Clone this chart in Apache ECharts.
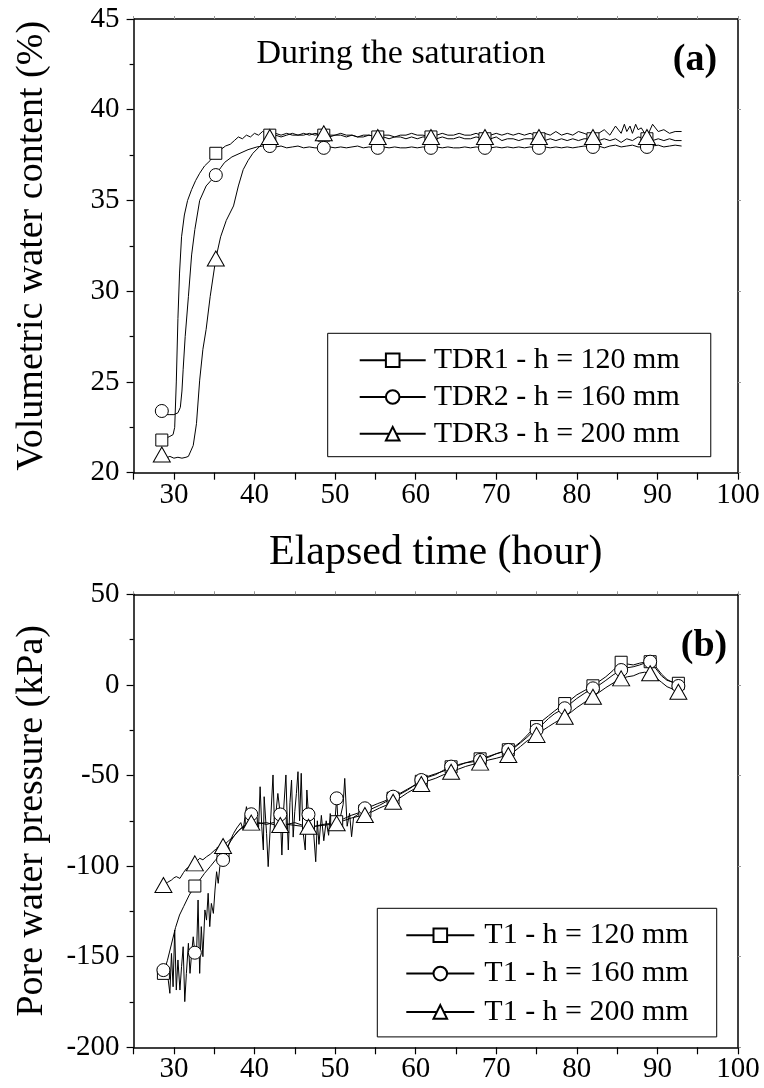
<!DOCTYPE html>
<html>
<head>
<meta charset="utf-8">
<script src="https://cdn.jsdelivr.net/npm/echarts/dist/echarts.min.js"></script>
<style>
html,body{margin:0;padding:0;background:#fff;}
#chart{width:764px;height:1088px;}
</style>
</head>
<body>
<div id="chart"></div>
<script>
// ---------- Panel (a): volumetric water content (%) vs elapsed time (hour) ----------
const tdrNames = ['TDR1 - h = 120 mm', 'TDR2 - h = 160 mm', 'TDR3 - h = 200 mm'];
const tdrMarkerTimes = [28.5, 35.2, 41.9, 48.6, 55.3, 61.9, 68.6, 75.3, 82.0, 88.7];
const tdr1 = [[28.5,21.8],[29.0,21.9],[29.5,22.0],[29.9,22.1],[30.1,22.5],[30.3,25.0],[30.5,28.5],[30.7,31.0],[30.95,33.0],[31.3,34.2],[31.7,35.0],[32.2,35.6],[32.7,36.1],[33.2,36.5],[33.8,36.9],[34.5,37.2],[35.2,37.6],[35.8,37.8],[36.4,38.0],[37.0,38.1],[37.5,38.3],[38.0,38.5],[38.5,38.4],[39.0,38.6],[39.5,38.5],[40.0,38.7],[40.5,38.6],[41.0,38.8],[41.9,38.6],[42.6,38.7],[43.3,38.6],[44.0,38.7],[44.7,38.6],[45.4,38.6],[46.1,38.7],[46.8,38.6],[47.5,38.7],[48.6,38.6],[49.3,38.5],[50.0,38.6],[50.7,38.6],[51.4,38.5],[52.1,38.6],[52.8,38.5],[53.5,38.5],[54.2,38.6],[55.3,38.5],[56.0,38.5],[56.7,38.4],[57.4,38.5],[58.1,38.5],[58.8,38.4],[59.5,38.5],[60.2,38.4],[60.9,38.5],[61.9,38.5],[62.6,38.4],[63.3,38.5],[64.0,38.4],[64.7,38.4],[65.4,38.5],[66.1,38.4],[66.8,38.4],[67.5,38.5],[68.6,38.4],[69.3,38.4],[70.0,38.5],[70.7,38.3],[71.4,38.4],[72.1,38.4],[72.8,38.3],[73.5,38.4],[74.2,38.4],[75.3,38.4],[76.0,38.3],[76.7,38.4],[77.4,38.3],[78.1,38.4],[78.8,38.3],[79.5,38.4],[80.2,38.3],[80.9,38.4],[82.0,38.4],[82.7,38.3],[83.4,38.4],[84.1,38.3],[84.8,38.4],[85.5,38.2],[86.2,38.4],[86.9,38.3],[87.6,38.5],[88.7,38.4],[89.4,38.3],[90.1,38.4],[90.8,38.3],[91.5,38.4],[92.2,38.3],[93.0,38.3]];
const tdr2 = [[28.5,23.4],[29.0,23.2],[29.5,23.2],[30.0,23.2],[30.5,23.3],[30.8,23.6],[31.0,24.5],[31.15,25.7],[31.4,27.5],[31.8,29.7],[32.2,32.0],[32.6,33.4],[33.2,35.0],[34.0,35.8],[34.6,36.1],[35.2,36.4],[35.8,36.8],[36.3,37.1],[37.2,37.4],[38.2,37.6],[39.2,37.8],[40.3,37.95],[41.0,38.0],[41.9,38.0],[42.6,37.95],[43.3,38.0],[44.0,37.9],[44.7,37.95],[45.4,38.0],[46.1,37.9],[46.8,37.95],[47.5,37.9],[48.6,37.9],[49.3,37.95],[50.0,37.9],[50.7,37.95],[51.4,37.9],[52.1,37.95],[52.8,38.0],[53.5,37.9],[54.2,37.95],[55.3,37.9],[56.0,37.95],[56.7,37.9],[57.4,37.95],[58.1,37.9],[58.8,37.9],[59.5,37.95],[60.2,37.9],[60.9,37.95],[61.9,37.9],[62.6,37.95],[63.3,37.9],[64.0,37.95],[64.7,37.9],[65.4,37.9],[66.1,37.95],[66.8,37.9],[67.5,37.95],[68.6,37.9],[69.3,37.9],[70.0,37.95],[70.7,37.9],[71.4,37.95],[72.1,37.9],[72.8,37.95],[73.5,37.9],[74.2,37.95],[75.3,37.9],[76.0,37.95],[76.7,37.9],[77.4,37.95],[78.1,37.9],[78.8,37.95],[79.5,37.9],[80.2,37.95],[80.9,38.0],[82.0,37.95],[82.7,38.0],[83.4,37.9],[84.1,38.0],[84.8,38.05],[85.5,37.95],[86.2,38.0],[86.9,38.05],[87.6,37.95],[88.7,37.95],[89.4,38.0],[90.1,38.05],[90.8,37.95],[91.5,38.0],[92.2,38.05],[93.0,38.0]];
const tdr3 = [[28.5,21.0],[29.0,20.8],[29.5,20.9],[30.0,20.8],[30.5,20.85],[31.0,20.8],[31.5,20.85],[31.8,20.9],[32.1,21.2],[32.4,21.5],[32.8,22.7],[33.2,25.1],[33.6,26.8],[34.0,27.9],[34.5,29.7],[35.2,31.8],[35.8,33.0],[36.5,33.9],[37.4,34.7],[38.0,35.8],[38.6,36.7],[39.2,37.2],[39.8,37.6],[40.7,38.0],[41.3,38.3],[41.9,38.5],[42.6,38.6],[43.3,38.5],[44.0,38.6],[44.7,38.7],[45.4,38.6],[46.1,38.6],[46.8,38.7],[47.5,38.6],[48.6,38.7],[49.3,38.6],[50.0,38.6],[50.7,38.7],[51.4,38.6],[52.1,38.6],[52.8,38.5],[53.5,38.6],[54.2,38.6],[55.3,38.5],[56.0,38.6],[56.7,38.6],[57.4,38.5],[58.1,38.6],[58.8,38.6],[59.5,38.7],[60.2,38.6],[60.9,38.6],[61.9,38.5],[62.6,38.6],[63.3,38.7],[64.0,38.6],[64.7,38.6],[65.4,38.7],[66.1,38.6],[66.8,38.6],[67.5,38.7],[68.6,38.5],[69.3,38.6],[70.0,38.7],[70.7,38.6],[71.4,38.7],[72.1,38.6],[72.8,38.7],[73.5,38.6],[74.2,38.7],[75.3,38.5],[76.0,38.7],[76.7,38.6],[77.4,38.8],[78.1,38.6],[78.8,38.7],[79.5,38.6],[80.2,38.8],[80.9,38.7],[82.0,38.5],[82.7,38.7],[83.4,38.9],[84.1,38.6],[84.8,39.1],[85.5,38.7],[85.9,39.2],[86.2,38.8],[86.6,39.1],[86.9,38.7],[87.3,39.2],[87.6,38.9],[88.0,39.0],[88.7,38.5],[89.4,39.2],[90.1,38.8],[90.8,38.9],[91.5,38.7],[92.2,38.8],[93.0,38.8]];

// ---------- Panel (b): pore water pressure (kPa) vs elapsed time (hour) ----------
const tNames = ['T1 - h = 120 mm', 'T1 - h = 160 mm', 'T1 - h = 200 mm'];
const tMarkerTimes = [28.7, 32.6, 36.1, 39.6, 43.2, 46.7, 50.2, 53.7, 57.2, 60.7, 64.4, 68.0, 71.5, 75.0, 78.5, 82.0, 85.5, 89.1, 92.6];
const t120 = [[28.7,-159.2],[29.2,-152],[29.7,-143],[30.2,-134],[30.7,-127],[31.2,-122.4],[31.9,-116],[32.6,-111.0],[33.2,-107.7],[33.8,-104],[34.5,-100.3],[35.1,-97],[35.7,-94],[36.1,-93],[36.8,-88],[37.4,-83.8],[38.0,-80.5],[38.6,-78.2],[39.6,-76.5],[40.5,-76],[41.5,-77],[42.3,-76],[43.2,-76.5],[44.0,-77],[45.0,-76],[46.0,-77.5],[46.7,-77],[47.5,-78],[48.5,-77],[49.4,-76.5],[50.2,-75.5],[51.0,-74],[52.0,-72],[53.0,-70.5],[53.7,-69.5],[54.5,-68.5],[55.5,-66.5],[56.3,-64.5],[57.2,-62.5],[58.0,-60.5],[59.0,-58],[60.0,-55],[60.7,-53.2],[61.5,-51],[62.5,-49.5],[63.5,-47],[64.4,-45.2],[65.3,-44.5],[66.2,-43],[67.0,-42],[68.0,-40.8],[69.0,-39.5],[70.0,-38],[70.8,-36.8],[71.5,-35.8],[72.3,-34],[73.0,-31.5],[73.8,-28],[74.4,-25],[75.0,-23.0],[75.8,-19.5],[76.5,-17],[77.2,-14.5],[77.8,-12.5],[78.5,-10.3],[79.3,-8],[80.0,-5.5],[81.0,-3],[82.0,-0.5],[82.8,2],[83.6,4.5],[84.5,8],[85.5,12.5],[86.3,11.5],[87.0,11],[87.8,12],[88.4,12.5],[89.1,12.8],[89.8,9],[90.5,5],[91.2,2.5],[92.0,1.5],[92.6,0.9]];
const t160 = [[28.7,-157.4],[28.9,-157.4],[29.3,-162.9],[29.5,-170.2],[29.7,-148.2],[29.9,-166.6],[30.1,-135.3],[30.3,-168.4],[30.5,-151.8],[30.75,-168.4],[30.95,-155.5],[31.15,-144.5],[31.35,-174.8],[31.55,-159.2],[31.8,-142.6],[32.0,-159.2],[32.2,-148.2],[32.4,-139],[32.6,-147.8],[32.8,-150],[33.0,-118.7],[33.2,-159.2],[33.4,-133.4],[33.6,-150],[33.85,-124.2],[34.05,-129.8],[34.25,-115.0],[34.45,-133.4],[34.65,-120.6],[34.9,-126.1],[35.1,-113.2],[35.3,-103.1],[35.5,-109.5],[35.7,-100.3],[36.1,-96.6],[36.5,-92],[37.0,-86],[37.4,-82],[37.8,-79],[38.3,-76],[38.6,-80],[39.0,-67.2],[39.3,-74],[39.6,-71.4],[39.9,-76],[40.2,-72],[40.5,-80],[40.7,-56.2],[40.9,-78],[41.1,-91.1],[41.2,-61.7],[41.5,-82],[41.7,-100.3],[42.0,-75],[42.3,-49.7],[42.5,-80],[42.7,-69],[42.9,-59.9],[43.2,-71.5],[43.4,-93.9],[43.6,-70],[43.9,-49.7],[44.1,-80],[44.2,-91.1],[44.4,-65],[44.6,-52.5],[44.8,-84],[45.0,-70],[45.2,-60],[45.4,-47.9],[45.6,-75],[45.8,-48.8],[46.0,-80],[46.3,-91.1],[46.5,-58],[46.7,-71.5],[46.9,-82],[47.1,-68],[47.3,-79],[47.6,-97.6],[47.8,-75],[48.0,-88],[48.3,-72],[48.6,-86],[48.9,-75],[49.2,-83],[49.4,-71],[49.7,-80],[50.0,-74],[50.2,-62.6],[50.4,-78],[50.7,-72],[51.0,-66],[51.2,-51.6],[51.5,-78],[51.8,-70.9],[52.05,-83.8],[52.3,-73],[52.7,-72],[53.2,-70],[53.7,-68.1],[54.5,-67],[55.3,-65.5],[56.2,-64],[57.2,-61.7],[58.0,-60],[59.0,-57.5],[60.0,-55],[60.7,-52.5],[61.5,-50.5],[62.5,-49],[63.5,-47.5],[64.4,-45.1],[65.3,-44],[66.2,-43],[67.0,-42.5],[68.0,-41.4],[69.0,-40],[70.0,-38],[70.8,-37],[71.5,-35.9],[72.3,-34.5],[73.0,-32],[73.8,-29],[74.4,-26.5],[75.0,-24.9],[75.8,-21.5],[76.5,-18.5],[77.2,-16],[77.8,-14.5],[78.5,-12.9],[79.3,-10],[80.0,-7.5],[81.0,-4.5],[82.0,-1.9],[82.8,0],[83.6,2.5],[84.5,5.5],[85.5,8.2],[86.3,9.5],[87.0,10],[87.8,11],[88.4,12],[89.1,12.8],[89.8,10],[90.5,6],[91.2,3],[92.0,1],[92.6,-0.6]];
const t200 = [[28.7,-110.4],[29.2,-109],[29.7,-107.7],[30.0,-106.5],[30.3,-105.8],[30.75,-106.8],[31.2,-103.5],[31.57,-101.3],[32.0,-100.5],[32.6,-98.5],[33.2,-95.7],[33.6,-96.5],[34.06,-94.8],[34.5,-93.5],[35.09,-91.1],[35.6,-90],[36.1,-88.9],[36.8,-86],[37.4,-83.8],[38.0,-80.5],[38.6,-78.2],[39.1,-77],[39.6,-76],[40.5,-76.5],[41.5,-76],[42.3,-77],[43.2,-77.3],[44.1,-77],[45.0,-77.5],[45.9,-78],[46.7,-78.3],[47.6,-78],[48.5,-77.5],[49.4,-77],[50.2,-76.4],[51.0,-75],[52.0,-73.5],[52.9,-72.5],[53.7,-71.8],[54.6,-70],[55.5,-68],[56.3,-66.5],[57.2,-64.5],[58.0,-62.5],[59.0,-59.5],[60.0,-57],[60.7,-54.7],[61.5,-53],[62.5,-51.5],[63.5,-49.5],[64.4,-47.9],[65.3,-46.5],[66.2,-45],[67.0,-44],[68.0,-42.9],[69.0,-41.5],[70.0,-40.5],[70.8,-39.5],[71.5,-38.7],[72.3,-36.5],[73.0,-34],[73.8,-31],[74.4,-29.5],[75.0,-27.6],[75.8,-25],[76.5,-23],[77.2,-21],[77.8,-19.5],[78.5,-17.6],[79.3,-15],[80.0,-12.5],[81.0,-9.5],[82.0,-6.5],[82.8,-4],[83.6,-1.5],[84.5,1],[85.5,3.6],[86.3,4.5],[87.0,5],[87.8,6.5],[88.4,7],[89.1,6.4],[89.8,4],[90.5,1.5],[91.2,-1],[92.0,-2.5],[92.6,-3.8]];

// axis tick labels
const xTickLabels = [30, 40, 50, 60, 70, 80, 90, 100];

const FONT = 'Liberation Serif';
const chart = echarts.init(document.getElementById('chart'), null, {renderer: 'canvas'});

function build(pairs, markerTimes) {
  return pairs.map(function (p) {
    const isMarker = markerTimes.some(function (m) { return Math.abs(m - p[0]) < 1e-6; });
    return isMarker ? {value: p} : {value: p, symbol: 'none'};
  });
}

function mkSeries(name, pairs, markers, symbol, size, gi) {
  return {
    type: 'line', name: name, xAxisIndex: gi * 2, yAxisIndex: gi * 2,
    data: build(pairs, markers),
    symbol: symbol, symbolSize: size, showSymbol: true, showAllSymbol: true,
    lineStyle: {color: '#000', width: 1},
    itemStyle: {color: '#fff', borderColor: '#000', borderWidth: 1},
    emphasis: {disabled: true},
    animation: false, silent: true
  };
}

function mainX(gi, withName) {
  const ax = {
    type: 'value', gridIndex: gi, position: 'bottom', min: 25, max: 100, interval: 5,
    axisLine: {show: true, onZero: false, lineStyle: {color: '#000', width: 1.5}},
    axisTick: {show: true, inside: false, length: 7, lineStyle: {color: '#000', width: 1.2}},
    axisLabel: {
      show: true, margin: 8, color: '#000', fontFamily: FONT, fontSize: 29,
      formatter: function (v) { return xTickLabels.indexOf(v) >= 0 ? String(v) : ''; }
    },
    splitLine: {show: false}
  };
  if (withName) {
    ax.name = 'Elapsed time (hour)';
    ax.nameLocation = 'middle';
    ax.nameGap = 59;
    ax.nameTextStyle = {fontFamily: FONT, fontSize: 42, color: '#000'};
  }
  return ax;
}
function mirrorX(gi) {
  return {
    type: 'value', gridIndex: gi, position: 'top', min: 25, max: 100, interval: 5,
    axisLine: {show: true, onZero: false, lineStyle: {color: '#000', width: 1.5}},
    axisTick: {show: true, inside: false, length: 3, lineStyle: {color: '#999', width: 1}},
    axisLabel: {show: false}, splitLine: {show: false}
  };
}
function mainY(gi, min, max, interval, name) {
  return {
    type: 'value', gridIndex: gi, position: 'left', min: min, max: max, interval: interval,
    axisLine: {show: true, onZero: false, lineStyle: {color: '#000', width: 1.5}},
    axisTick: {show: true, inside: false, length: 7, lineStyle: {color: '#000', width: 1.2}},
    minorTick: {show: true, splitNumber: 2, length: 4, lineStyle: {color: '#000', width: 1.2}},
    axisLabel: {show: true, margin: 14, color: '#000', fontFamily: FONT, fontSize: 29},
    splitLine: {show: false}, minorSplitLine: {show: false},
    name: name, nameLocation: 'middle', nameGap: 83,
    nameTextStyle: {fontFamily: FONT, fontSize: 38, color: '#000'}
  };
}
function mirrorY(gi, min, max, interval) {
  return {
    type: 'value', gridIndex: gi, position: 'right', min: min, max: max, interval: interval,
    axisLine: {show: true, onZero: false, lineStyle: {color: '#000', width: 1.5}},
    axisTick: {show: true, inside: false, length: 3, lineStyle: {color: '#999', width: 1}},
    axisLabel: {show: false}, splitLine: {show: false}
  };
}

const legendText = {fontFamily: FONT, fontSize: 30, color: '#000', lineHeight: 30};

const option = {
  backgroundColor: '#fff',
  animation: false,
  grid: [
    {left: 133.6, top: 19, width: 604.4, height: 453.7, containLabel: false, outerBoundsMode: 'none'},
    {left: 133.6, top: 594.3, width: 604.4, height: 453, containLabel: false, outerBoundsMode: 'none'}
  ],
  xAxis: [mainX(0, true), mirrorX(0), mainX(1, false), mirrorX(1)],
  yAxis: [
    mainY(0, 20, 45, 5, 'Volumetric water content (%)'), mirrorY(0, 20, 45, 5),
    mainY(1, -200, 50, 50, 'Pore water pressure (kPa)'), mirrorY(1, -200, 50, 50)
  ],
  legend: [
    {
      data: tdrNames, orient: 'vertical', left: 327.7, top: 333.3,
      padding: [12, 31, 8, 31], itemGap: 6.7, itemWidth: 66, itemHeight: 17,
      borderColor: '#000', borderWidth: 1, backgroundColor: '#fff',
      selectedMode: false, textStyle: Object.assign({padding: [0, 0, 0, 3]}, legendText)
    },
    {
      data: tNames, orient: 'vertical', left: 377.3, top: 908.3,
      padding: [12, 28, 10, 28], itemGap: 8.3, itemWidth: 68, itemHeight: 17,
      borderColor: '#000', borderWidth: 1, backgroundColor: '#fff',
      selectedMode: false, textStyle: Object.assign({padding: [0, 0, 0, 5]}, legendText)
    }
  ],
  graphic: [
    {type: 'text', x: 401, y: 54, silent: true,
     style: {text: 'During the saturation', font: '34px "Liberation Serif"', fill: '#000',
             align: 'center', verticalAlign: 'middle', textAlign: 'center', textVerticalAlign: 'middle'}},
    {type: 'text', x: 695, y: 60, silent: true,
     style: {text: '(a)', font: 'bold 38px "Liberation Serif"', fill: '#000',
             align: 'center', verticalAlign: 'middle', textAlign: 'center', textVerticalAlign: 'middle'}},
    {type: 'text', x: 704, y: 646, silent: true,
     style: {text: '(b)', font: 'bold 38px "Liberation Serif"', fill: '#000',
             align: 'center', verticalAlign: 'middle', textAlign: 'center', textVerticalAlign: 'middle'}}
  ],
  series: [
    mkSeries(tdrNames[0], tdr1, tdrMarkerTimes, 'rect', 12, 0),
    mkSeries(tdrNames[1], tdr2, tdrMarkerTimes, 'circle', 13, 0),
    mkSeries(tdrNames[2], tdr3, tdrMarkerTimes, 'triangle', [17, 15], 0),
    mkSeries(tNames[0], t120, tMarkerTimes, 'rect', 12, 1),
    mkSeries(tNames[1], t160, tMarkerTimes, 'circle', 13, 1),
    mkSeries(tNames[2], t200, tMarkerTimes, 'triangle', [17, 15], 1)
  ]
};
chart.setOption(option);
</script>
</body>
</html>
